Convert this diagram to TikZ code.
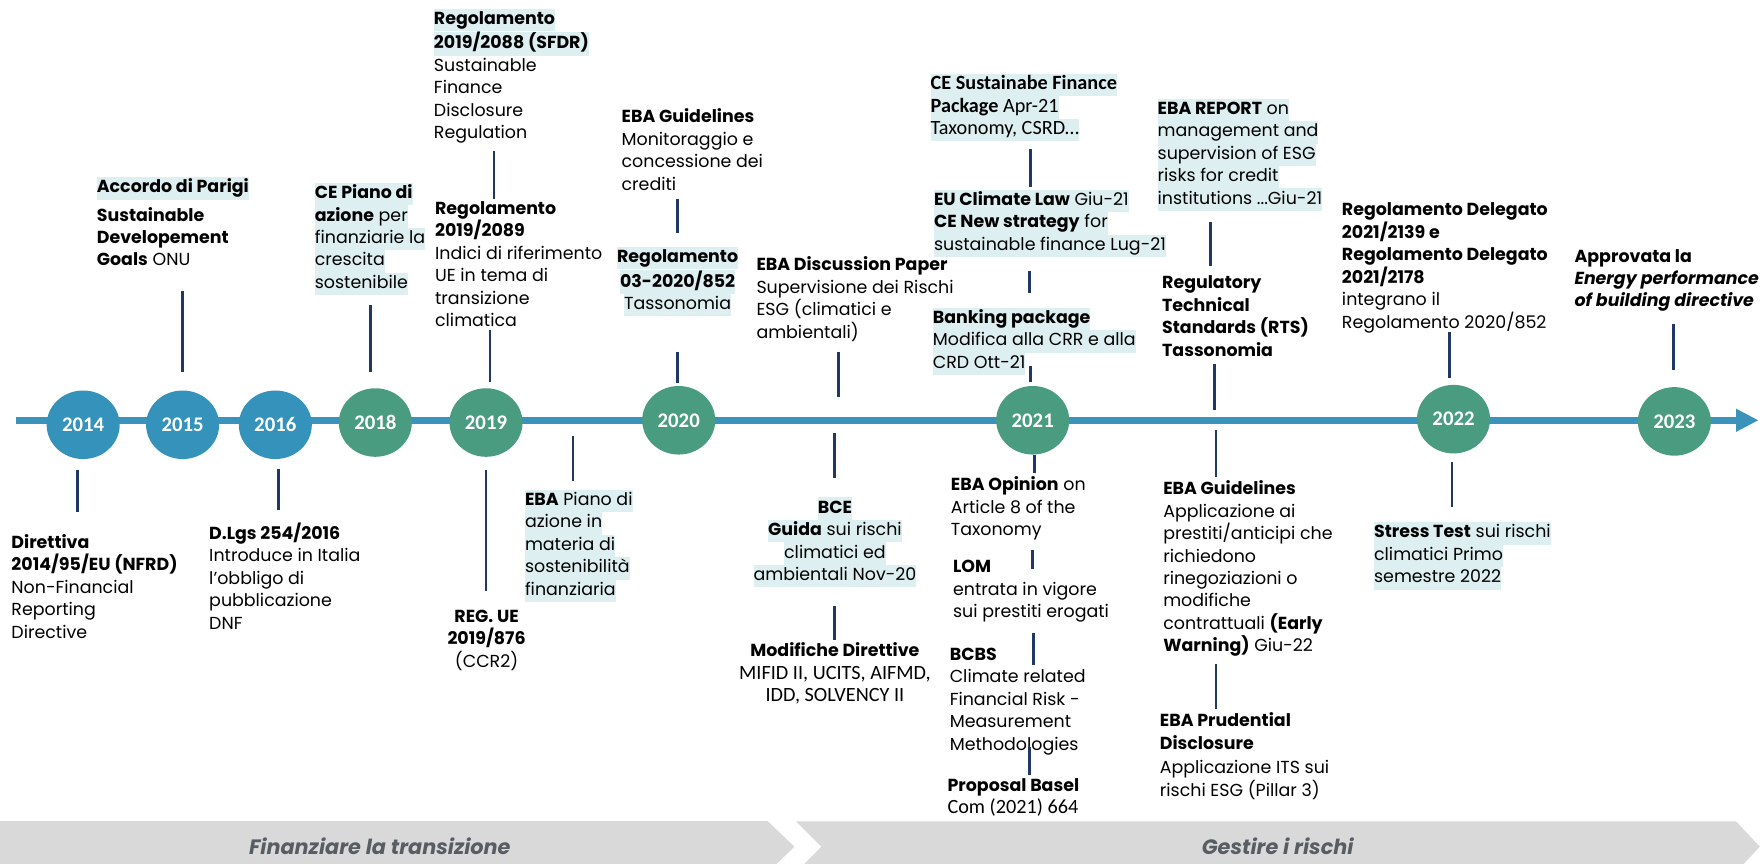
\documentclass[tikz,border=0pt]{standalone}
\usepackage{fontspec}
\setmainfont{Poppins}
\newfontfamily\annofont{Carlito}
\usetikzlibrary{shapes.geometric,arrows.meta}
\definecolor{blulinea}{HTML}{3A93BB}
\definecolor{bluanno}{HTML}{3592BA}
\definecolor{verdeanno}{HTML}{4A9C80}
\definecolor{navy}{HTML}{1F3864}
\definecolor{evid}{HTML}{DDEFF0}
\definecolor{grigiofascia}{HTML}{D9D9D9}
\definecolor{grigiotesto}{HTML}{575D63}
\newcommand{\hlriga}[1]{{\fboxsep=0pt\colorbox{evid}{\strut#1}}}
\newcommand{\calib}{\annofont\fontsize{18}{20}\selectfont}
\begin{document}
\begin{tikzpicture}[x=1pt,y=-1pt]
		\tikzset{evento/.style={anchor=north west, align=left, inner sep=0pt, font=\fontsize{15.5}{20}\selectfont, execute at begin node=\strut}}
		\tikzset{eventoc/.style={evento, anchor=north, align=center}}
		\tikzset{tratto/.style={draw=navy, line width=2.4pt}}
		\tikzset{anno/.style={ellipse, minimum width=65pt, minimum height=61pt, inner sep=0pt, text=white, font=\annofont\bfseries\fontsize{18.5}{18.5}\selectfont}}
		\tikzset{annoblu/.style={anno, fill=bluanno}}
		\tikzset{annoverde/.style={anno, fill=verdeanno}}
		\tikzset{fascia/.style={fill=grigiofascia}}
		\tikzset{testofascia/.style={font=\bfseries\itshape\fontsize{18.5}{20}\selectfont, text=grigiotesto}}
		\useasboundingbox (0,0) rectangle (1568,768);

		\fill[fascia] (-2,730.6) -- (683,730.6) -- (707,753.5) -- (683,776.4) -- (-2,776.4) -- cycle;
		\fill[fascia] (708.5,731) -- (1545,731) -- (1566,753.5) -- (1545,776) -- (708.5,776) -- (731,753.5) -- cycle;
		\node[testofascia] (fin) at (338,753) {Finanziare la transizione};
		\node[testofascia] (ges) at (1137,753) {Gestire i rischi};

		\coordinate (inizio) at (14,374);
		\coordinate (fine) at (1565,374);
		\draw[blulinea, line width=6pt, -{Triangle[length=20pt,width=19pt]}] (inizio) -- (fine);

		\node[annoblu] (y2014) at (74,378) {2014};
		\node[annoblu] (y2015) at (162.5,378) {2015};
		\node[annoblu] (y2016) at (245,378) {2016};
		\node[annoverde] (y2018) at (334,376) {2018};
		\node[annoverde] (y2019) at (432.5,376) {2019};
		\node[annoverde] (y2020) at (604,374) {2020};
		\node[annoverde] (y2021) at (919,374) {2021};
		\node[annoverde] (y2022) at (1293.5,373) {2022};
		\node[annoverde] (y2023) at (1490,375) {2023};

		\node[evento] (sfdr) at (386,7.5) {\hlriga{\textbf{Regolamento}}\\ \hlriga{\textbf{2019/2088 (SFDR)}}\\ Sustainable\\ Finance\\ Disclosure\\ Regulation};
		\node[evento] (reg2089) at (387,179) {\textbf{Regolamento}\\ \textbf{2019/2089}\\ Indici di riferimento\\ UE in tema di\\ transizione\\ climatica};
		\node[evento] (parigi) at (86,157.5) {\hlriga{\textbf{Accordo di Parigi}}\\[5pt] \textbf{Sustainable}\\ \textbf{Developement}\\ \textbf{Goals} ONU};
		\node[evento] (piano) at (280,162.5) {\hlriga{\textbf{CE Piano di}}\\ \hlriga{\textbf{azione} per}\\ \hlriga{finanziarie la}\\ \hlriga{crescita}\\ \hlriga{sostenibile}};
		\node[evento] (guida1) at (553,96.5) {\textbf{EBA Guidelines}\\ Monitoraggio e\\ concessione dei\\ crediti};
		\node[eventoc] (reg852) at (603,219.5) {\hlriga{\textbf{Regolamento}}\\ \hlriga{\textbf{03-2020/852}}\\ \hlriga{Tassonomia}};
		\node[evento] (disc) at (673,228.5) {\textbf{EBA Discussion Paper}\\ Supervisione dei Rischi\\ ESG (climatici e\\ ambientali)};
		\node[evento, font=\calib] (pacchetto) at (828,65.5) {\hlriga{\textbf{CE Sustainabe Finance}}\\ \hlriga{\textbf{Package} Apr-21}\\ \hlriga{Taxonomy, CSRD…}};
		\node[evento] (clima) at (831,168.5) {\hlriga{\textbf{EU Climate Law} Giu-21}\\ \hlriga{\textbf{CE New strategy} for}\\ \hlriga{sustainable finance Lug-21}};
		\node[evento] (banking) at (830,273.5) {\hlriga{\textbf{Banking package}}\\ \hlriga{Modifica alla CRR e alla}\\ \hlriga{CRD Ott-21}};
		\node[evento] (report) at (1030,87.5) {\hlriga{\textbf{EBA REPORT} on}\\ \hlriga{management and}\\ \hlriga{supervision of ESG}\\ \hlriga{risks for credit}\\ \hlriga{institutions ...Giu-21}};
		\node[evento] (rts) at (1034,245.5) {\textbf{Regulatory}\\ \textbf{Technical}\\ \textbf{Standards (RTS)}\\ \textbf{Tassonomia}};
		\node[evento] (delegato) at (1194,180.5) {\textbf{Regolamento Delegato}\\ \textbf{2021/2139 e}\\ \textbf{Regolamento Delegato}\\ \textbf{2021/2178}\\ integrano il\\ Regolamento 2020/852};
		\node[evento] (epbd) at (1401,221.5) {\textbf{Approvata la}\\ \textbf{\textit{Energy performance}}\\ \textbf{\textit{of building directive}}};

		\node[evento] (nfrd) at (10,475.5) {\textbf{Direttiva}\\ \textbf{2014/95/EU (NFRD)}\\ Non-Financial\\ Reporting\\ Directive};
		\node[evento] (dlgs) at (186,465) {\textbf{D.Lgs 254/2016}\\ Introduce in Italia\\ l’obbligo di\\ pubblicazione\\ DNF};
		\node[eventoc] (regue) at (433,542.5) {\textbf{REG. UE}\\ \textbf{2019/876}\\ (CCR2)};
		\node[evento] (ebapiano) at (467,435.5) {\hlriga{\textbf{EBA} Piano di}\\ \hlriga{azione in}\\ \hlriga{materia di}\\ \hlriga{sostenibilità}\\ \hlriga{finanziaria}};
		\node[eventoc] (bce) at (743,442.5) {\hlriga{\textbf{BCE}}\\ \hlriga{\textbf{Guida} sui rischi}\\ \hlriga{climatici ed}\\ \hlriga{ambientali Nov-20}};
		\node[eventoc] (modifiche) at (743,572) {\textbf{Modifiche Direttive}\\ {\calib MIFID II, UCITS, AIFMD,}\\ {\calib IDD, SOLVENCY II}};
		\node[evento] (opinion) at (846,424) {\textbf{EBA Opinion} on\\ Article 8 of the\\ Taxonomy};
		\node[evento] (lom) at (848,498.5) {\textbf{LOM}\\ entrata in vigore\\ sui prestiti erogati};
		\node[evento] (bcbs) at (845,576.5) {\textbf{BCBS}\\ Climate related\\ Financial Risk -\\ Measurement\\ Methodologies};
		\node[evento] (basel) at (843,692.5) {\textbf{Proposal Basel}\\ {\calib Com (2021) 664}};
		\node[evento] (guida2) at (1035,427.5) {\textbf{EBA Guidelines}\\ Applicazione ai\\ prestiti/anticipi che\\ richiedono\\ rinegoziazioni o\\ modifiche\\ contrattuali \textbf{(Early}\\ \textbf{Warning)} Giu-22};
		\node[evento] (prudential) at (1032,634) {\textbf{EBA Prudential}\\ \textbf{Disclosure}\\[2pt] Applicazione ITS sui\\ rischi ESG (Pillar 3)};
		\node[evento] (stress) at (1222.6,464.5) {\hlriga{\textbf{Stress Test} sui rischi}\\ \hlriga{climatici Primo}\\ \hlriga{semestre 2022}};

		\coordinate (a15) at (162.5,259); \coordinate (b15) at (162.5,331);
		\coordinate (a18) at (330,271); \coordinate (b18) at (330,331);
		\coordinate (a19) at (439.6,134); \coordinate (b19) at (439.6,177);
		\coordinate (c19) at (436,294); \coordinate (d19) at (436,340);
		\coordinate (a20) at (603,177); \coordinate (b20) at (603,207);
		\coordinate (c20) at (603,313); \coordinate (d20) at (603,341);
		\coordinate (adisc) at (746,313); \coordinate (bdisc) at (746,353);
		\coordinate (a21) at (917,133); \coordinate (b21) at (917,166);
		\coordinate (c21) at (916,241); \coordinate (d21) at (916,261);
		\coordinate (e21) at (917,326); \coordinate (f21) at (917,340);
		\coordinate (arep) at (1077,198); \coordinate (brep) at (1077,237);
		\coordinate (arts) at (1081,324); \coordinate (brts) at (1081,365);
		\coordinate (adel) at (1290,295); \coordinate (bdel) at (1290,336);
		\coordinate (aepb) at (1489,288); \coordinate (bepb) at (1489,329);

		\coordinate (a14) at (69,418); \coordinate (b14) at (69,455.6);
		\coordinate (a16) at (247.6,417); \coordinate (b16) at (247.6,454);
		\coordinate (e19) at (432.5,418); \coordinate (f19) at (432.5,526);
		\coordinate (apia) at (510,388); \coordinate (bpia) at (510,428);
		\coordinate (abce) at (742.6,385); \coordinate (bbce) at (742.6,425);
		\coordinate (amod) at (742.6,539.5); \coordinate (bmod) at (742.6,569.6);
		\coordinate (g21) at (920.8,405); \coordinate (h21) at (920.8,421);
		\coordinate (alom) at (919,489.5); \coordinate (blom) at (919,506.5);
		\coordinate (abcb) at (920,563.6); \coordinate (bbcb) at (920,591.7);
		\coordinate (abas) at (916,664.5); \coordinate (bbas) at (916,689.7);
		\coordinate (agui) at (1082,383); \coordinate (bgui) at (1082,424.5);
		\coordinate (apru) at (1082,591); \coordinate (bpru) at (1082,631);
		\coordinate (astr) at (1292,411); \coordinate (bstr) at (1292,451);

    \draw[tratto] (a15) -- (b15);
    \draw[tratto] (a18) -- (b18);
    \draw[tratto] (a19) -- (b19);
    \draw[tratto] (c19) -- (d19);
    \draw[tratto] (a20) -- (b20);
    \draw[tratto] (c20) -- (d20);
    \draw[tratto] (adisc) -- (bdisc);
    \draw[tratto] (a21) -- (b21);
    \draw[tratto] (c21) -- (d21);
    \draw[tratto] (e21) -- (f21);
    \draw[tratto] (arep) -- (brep);
    \draw[tratto] (arts) -- (brts);
    \draw[tratto] (adel) -- (bdel);
    \draw[tratto] (aepb) -- (bepb);
    \draw[tratto] (a14) -- (b14);
    \draw[tratto] (a16) -- (b16);
    \draw[tratto] (e19) -- (f19);
    \draw[tratto] (apia) -- (bpia);
    \draw[tratto] (abce) -- (bbce);
    \draw[tratto] (amod) -- (bmod);
    \draw[tratto] (g21) -- (h21);
    \draw[tratto] (alom) -- (blom);
    \draw[tratto] (abcb) -- (bbcb);
    \draw[tratto] (abas) -- (bbas);
    \draw[tratto] (agui) -- (bgui);
    \draw[tratto] (apru) -- (bpru);
    \draw[tratto] (astr) -- (bstr);

		\end{tikzpicture}
\end{document}
